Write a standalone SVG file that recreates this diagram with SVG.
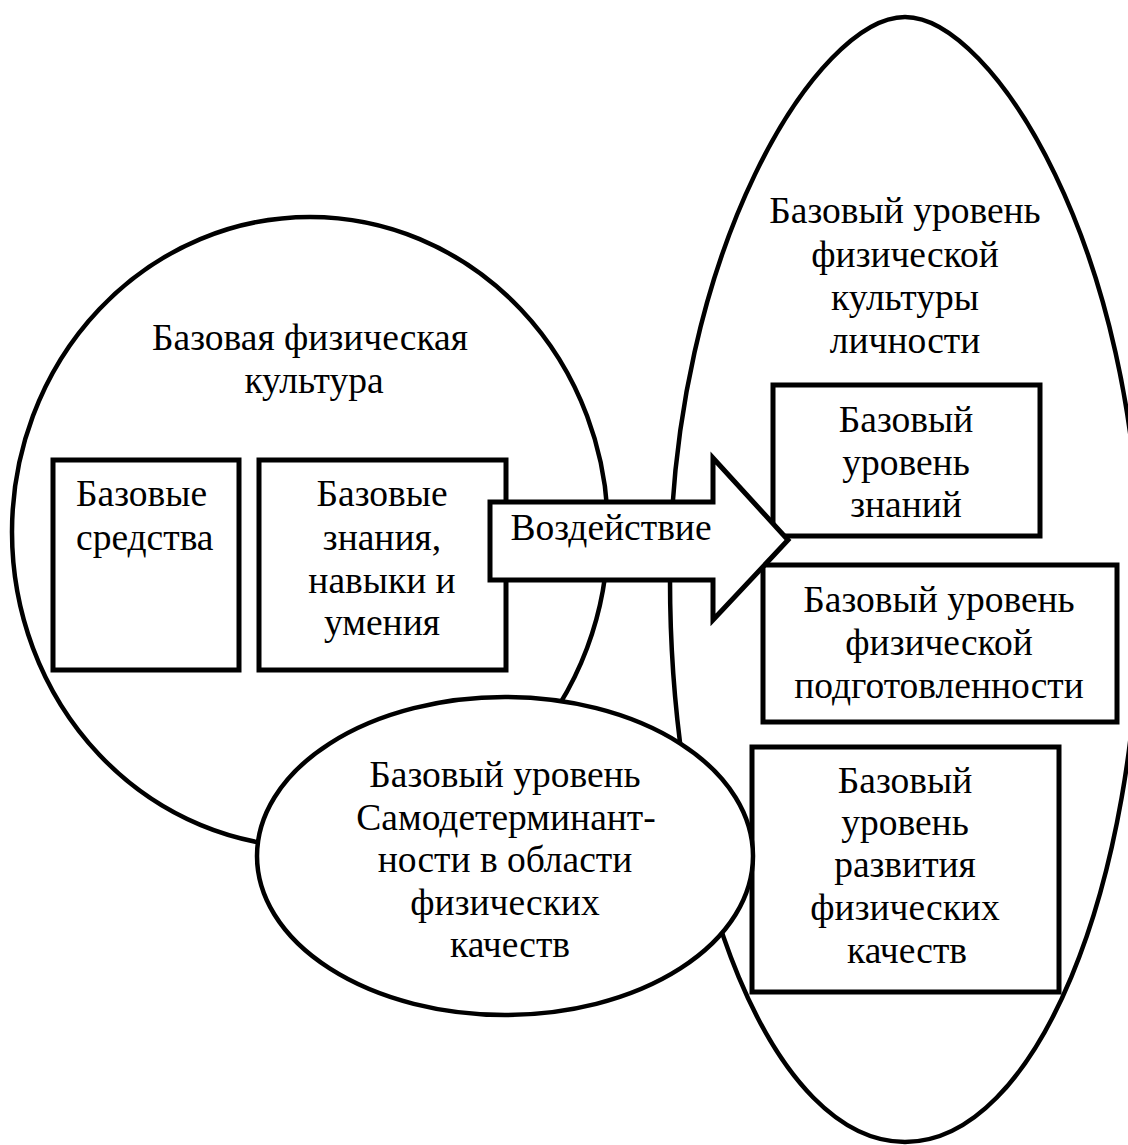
<svg xmlns="http://www.w3.org/2000/svg" width="1128" height="1145" viewBox="0 0 1128 1145">
<style>
.sh{fill:#fff;stroke:#000;stroke-width:4.5}
.bx{fill:#fff;stroke:#000;stroke-width:5}
text{font-family:"Liberation Serif","Times New Roman",serif;font-size:37.5px;fill:#000;text-anchor:middle}
</style>
<rect width="1128" height="1145" fill="#fff"/>
<g id="left-circle">
<ellipse class="sh" cx="310" cy="532" rx="298" ry="315"/>
<text x="310" y="350">Базовая физическая</text>
<text x="314" y="393">культура</text>
</g>
<g id="right-ellipse">
<path class="sh" d="M670,579 C670,250 818,17 905,17 C992,17 1140,250 1140,579 C1140,890 1035,1142 905,1142 C775,1142 670,890 670,579 Z"/>
<text x="905" y="223">Базовый уровень</text>
<text x="905" y="267">физической</text>
<text x="905" y="310">культуры</text>
<text x="905" y="353">личности</text>
</g>
<g id="box-sredstva">
<rect class="bx" x="53" y="460" width="186" height="210"/>
<text x="76" y="506" style="text-anchor:start">Базовые</text>
<text x="76" y="550" style="text-anchor:start">средства</text>
</g>
<g id="box-znaniya">
<rect class="bx" x="259" y="460" width="247" height="210"/>
<text x="382" y="506">Базовые</text>
<text x="382" y="550">знания,</text>
<text x="382" y="593">навыки и</text>
<text x="382" y="635">умения</text>
</g>
<g id="box-uroven-znaniy">
<rect class="bx" x="773" y="385" width="267" height="151"/>
<text x="906" y="432">Базовый</text>
<text x="906" y="475">уровень</text>
<text x="906" y="517">знаний</text>
</g>
<g id="box-podgotovlennost">
<rect class="bx" x="763" y="565" width="354" height="157"/>
<text x="939" y="612">Базовый уровень</text>
<text x="939" y="655">физической</text>
<text x="939" y="698">подготовленности</text>
</g>
<g id="box-kachestva">
<rect class="bx" x="752" y="747" width="307" height="245"/>
<text x="905" y="793">Базовый</text>
<text x="905" y="835">уровень</text>
<text x="905" y="877">развития</text>
<text x="905" y="920">физических</text>
<text x="907" y="963">качеств</text>
</g>
<g id="small-ellipse">
<ellipse class="sh" cx="505" cy="856" rx="248" ry="159"/>
<text x="505" y="787">Базовый уровень</text>
<text x="506" y="830">Самодетерминант-</text>
<text x="505" y="872">ности в области</text>
<text x="505" y="915">физических</text>
<text x="510" y="957">качеств</text>
</g>
<g id="connectors">
<g id="arrow-vozdeystvie">
<polygon class="bx" points="490,502 713,502 713,458 788,540 713,620 713,580 490,580"/>
<text x="611" y="540">Воздействие</text>
</g>
</g>
</svg>
